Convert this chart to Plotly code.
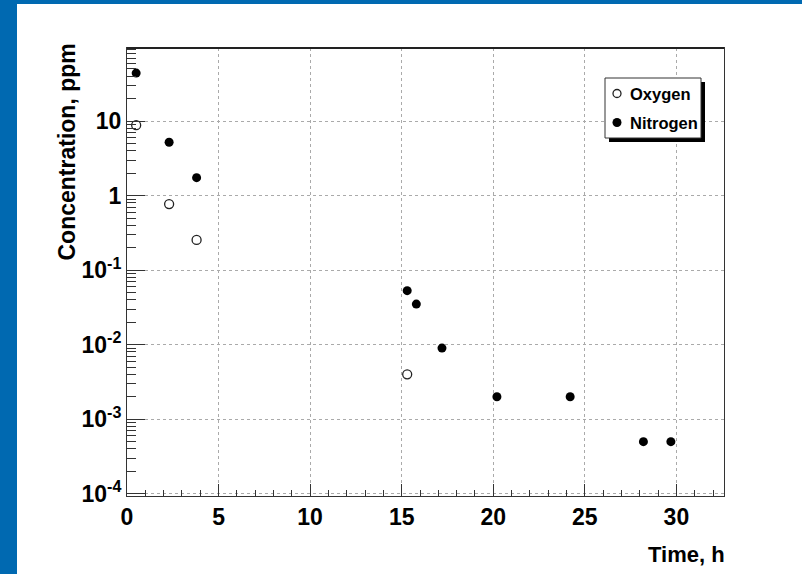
import plotly.graph_objects as go

# ---- data ----
time_oxygen = [0.5, 2.3, 3.8, 15.3]
conc_oxygen = [8.8, 0.77, 0.254, 0.004]

time_nitrogen = [0.5, 2.3, 3.8, 15.3, 15.8, 17.2, 20.2, 24.2, 28.2, 29.7]
conc_nitrogen = [44, 5.2, 1.74, 0.053, 0.035, 0.009, 0.002, 0.002, 0.0005, 0.0005]

y_tickvals = [1e-4, 1e-3, 1e-2, 1e-1, 1, 10]
y_ticktext = ["10<sup>-4</sup>", "10<sup>-3</sup>", "10<sup>-2</sup>", "10<sup>-1</sup>", "1", "10"]
x_tickvals = [0, 5, 10, 15, 20, 25, 30]

series_names = ["Oxygen", "Nitrogen"]

W, H = 802, 574
L, R, T, B = 127, 78, 48, 78
PW, PH = W - L - R, H - T - B


def px(x):
    return (x - L) / PW


def py(y):
    return (H - B - y) / PH


FONT = "Liberation Sans, Arial, Helvetica, sans-serif"
BLUE = "#0069b1"

fig = go.Figure()
fig.add_trace(go.Scatter(
    x=time_oxygen, y=conc_oxygen, mode="markers", name=series_names[0],
    showlegend=False,
    marker=dict(symbol="circle-open", size=9, color="#222", line=dict(width=1.3, color="#222")),
))
fig.add_trace(go.Scatter(
    x=time_nitrogen, y=conc_nitrogen, mode="markers", name=series_names[1],
    showlegend=False,
    marker=dict(symbol="circle", size=9, color="black"),
))

shapes = [
    # blue page frame
    dict(type="rect", xref="paper", yref="paper", x0=px(0), x1=px(17), y0=py(574), y1=py(0),
         fillcolor=BLUE, line=dict(width=0), layer="below"),
    dict(type="rect", xref="paper", yref="paper", x0=px(0), x1=px(802), y0=py(4), y1=py(0),
         fillcolor=BLUE, line=dict(width=0), layer="below"),
    # thick top frame line
    dict(type="line", xref="paper", yref="paper", x0=0, x1=1, y0=1, y1=1,
         line=dict(color="#222", width=2)),
    # legend shadow and box
    dict(type="rect", xref="paper", yref="paper", x0=px(609), x1=px(705), y0=py(142), y1=py(82),
         fillcolor="black", line=dict(width=0)),
    dict(type="rect", xref="paper", yref="paper", x0=px(605), x1=px(701), y0=py(138), y1=py(78),
         fillcolor="white", line=dict(color="#333", width=1)),
    # legend symbols
    dict(type="circle", xref="paper", yref="paper", xsizemode="pixel", ysizemode="pixel",
         xanchor=px(617), yanchor=py(93.5), x0=-4, x1=4, y0=-4, y1=4,
         fillcolor="white", line=dict(color="#222", width=1.3)),
    dict(type="circle", xref="paper", yref="paper", xsizemode="pixel", ysizemode="pixel",
         xanchor=px(617), yanchor=py(122.5), x0=-4.5, x1=4.5, y0=-4.5, y1=4.5,
         fillcolor="black", line=dict(color="black", width=0)),
]

annotations = [
    dict(text="<b>Concentration, ppm</b>", textangle=-90, xref="paper", yref="paper",
         x=px(67), y=py(42), xanchor="center", yanchor="top", showarrow=False,
         font=dict(family=FONT, size=23, color="black")),
    dict(text="<b>Time, h</b>", xref="paper", yref="paper",
         x=px(727), y=py(554), xanchor="right", yanchor="middle", showarrow=False,
         font=dict(family=FONT, size=22, color="black")),
    dict(text=f"<b>{series_names[0]}</b>", xref="paper", yref="paper",
         x=px(628), y=py(93.5), xanchor="left", yanchor="middle", showarrow=False,
         font=dict(family=FONT, size=16.5, color="black")),
    dict(text=f"<b>{series_names[1]}</b>", xref="paper", yref="paper",
         x=px(628), y=py(122.5), xanchor="left", yanchor="middle", showarrow=False,
         font=dict(family=FONT, size=16.5, color="black")),
]

fig.update_layout(
    width=W, height=H,
    margin=dict(l=L, r=R, t=T, b=B, pad=0),
    paper_bgcolor="white", plot_bgcolor="white",
    font=dict(family=FONT, size=22, color="black"),
    showlegend=False,
    shapes=shapes, annotations=annotations,
)

fig.update_xaxes(
    range=[0, 32.6], tickvals=x_tickvals, ticktext=[f"<b>{v}</b>" for v in x_tickvals],
    ticks="inside", ticklen=12, tickwidth=1, tickcolor="#333",
    showline=True, linecolor="#333", linewidth=1, mirror=True,
    showgrid=True, gridcolor="#aaa", griddash="dot", gridwidth=1,
    zeroline=False,
    minor=dict(dtick=1, tick0=0, ticks="inside", ticklen=6, tickcolor="#333", showgrid=False),
    tickfont=dict(family=FONT, size=23),
)
fig.update_yaxes(
    type="log", range=[-4.03, 1.98], tickvals=y_tickvals,
    ticktext=[f"<b>{t}</b>" for t in y_ticktext],
    ticks="inside", ticklen=18, tickwidth=1, tickcolor="#333",
    showline=True, linecolor="#333", linewidth=1, mirror=True,
    showgrid=True, gridcolor="#aaa", griddash="dot", gridwidth=1,
    zeroline=False,
    minor=dict(dtick="D1", ticks="inside", ticklen=9, tickcolor="#333", showgrid=False),
    tickfont=dict(family=FONT, size=23),
)

fig.write_html("out.html", config={"displayModeBar": False},
               post_script="document.body.style.margin='0px';")
